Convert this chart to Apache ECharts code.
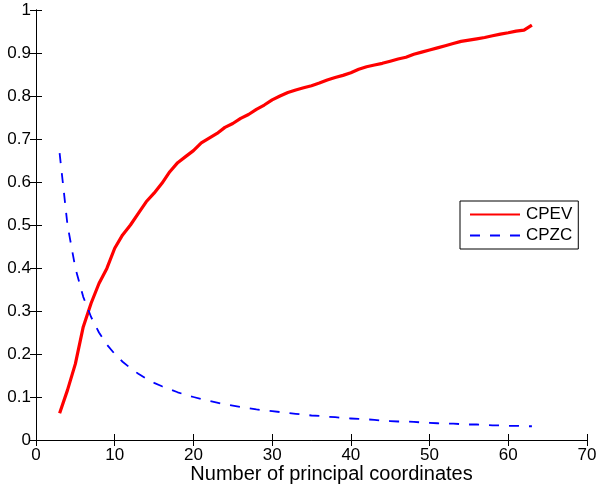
<!DOCTYPE html>
<html>
<head>
<meta charset="utf-8">
<script src="https://cdn.jsdelivr.net/npm/echarts@6/dist/echarts.min.js"></script>
<style>
  html, body { margin: 0; padding: 0; background: #fff; }
  #chart { width: 596px; height: 487px; }
</style>
</head>
<body>
<div id="chart"></div>
<script>
// Number of principal coordinates retained
const coords = [3, 4, 5, 6, 7, 8, 9, 10, 11, 12, 13, 14, 15, 16, 17, 18, 19, 20,
  21, 22, 23, 24, 25, 26, 27, 28, 29, 30, 31, 32, 33, 34, 35, 36, 37, 38, 39, 40,
  41, 42, 43, 44, 45, 46, 47, 48, 49, 50, 51, 52, 53, 54, 55, 56, 57, 58, 59, 60,
  61, 62, 63];

// Cumulative proportion of explained variation
const cpev = [0.062, 0.116, 0.177, 0.263, 0.318, 0.364, 0.399, 0.446, 0.477, 0.500,
  0.527, 0.554, 0.574, 0.597, 0.624, 0.645, 0.659, 0.673, 0.691, 0.702,
  0.713, 0.727, 0.736, 0.748, 0.757, 0.769, 0.779, 0.791, 0.800, 0.808,
  0.814, 0.819, 0.824, 0.830, 0.837, 0.843, 0.848, 0.854, 0.862, 0.868,
  0.872, 0.876, 0.881, 0.886, 0.890, 0.897, 0.902, 0.907, 0.912, 0.917,
  0.922, 0.927, 0.930, 0.933, 0.936, 0.940, 0.944, 0.947, 0.951, 0.953,
  0.965];

// Cumulative proportion of zero-correlation
const cpzc = [0.667, 0.500, 0.400, 0.333, 0.286, 0.250, 0.222, 0.200, 0.182, 0.167,
  0.154, 0.143, 0.133, 0.125, 0.118, 0.111, 0.105, 0.100, 0.095, 0.091,
  0.087, 0.083, 0.080, 0.077, 0.074, 0.071, 0.069, 0.067, 0.065, 0.063,
  0.061, 0.059, 0.057, 0.056, 0.054, 0.053, 0.051, 0.050, 0.049, 0.048,
  0.047, 0.045, 0.044, 0.043, 0.043, 0.042, 0.041, 0.040, 0.039, 0.038,
  0.038, 0.037, 0.036, 0.036, 0.035, 0.034, 0.034, 0.033, 0.033, 0.032,
  0.032];

const seriesNames = ['CPEV', 'CPZC'];
const xTitle = 'Number of principal coordinates';

const FONT = '"Liberation Sans", Arial, Helvetica, sans-serif';
const pairs = (ys) => coords.map((x, i) => [x, ys[i]]);

const boxAxis = (extra) => Object.assign({
  type: 'value',
  axisLine: { show: true, lineStyle: { color: '#000', width: 1 } },
  axisTick: { show: true, inside: true, length: 6, lineStyle: { color: '#000', width: 1 } },
  splitLine: { show: false },
}, extra);

const chart = echarts.init(document.getElementById('chart'), null, { renderer: 'canvas' });
chart.setOption({
  animation: false,
  backgroundColor: '#fff',
  textStyle: { fontFamily: FONT },
  grid: { left: 36, right: 9, top: 10, bottom: 47, containLabel: false, outerBoundsMode: 'none' },
  legend: {
    data: seriesNames,
    orient: 'vertical',
    left: 460,
    top: 201,
    width: 118,
    padding: [5, 6, 5, 9],
    itemGap: 4,
    itemWidth: 50,
    itemHeight: 14,
    borderColor: '#000',
    borderWidth: 1,
    backgroundColor: '#fff',
    itemStyle: { opacity: 0 },
    textStyle: { fontFamily: FONT, fontSize: 17, color: '#000', padding: [0, 0, 0, 1] },
  },
  xAxis: [
    boxAxis({
      min: 0, max: 70, interval: 10,
      position: 'bottom',
      axisLabel: { color: '#000', fontSize: 17, fontFamily: FONT, margin: 7 },
      name: xTitle,
      nameLocation: 'middle',
      nameGap: 24,
      nameMoveOverlap: false,
      nameTextStyle: { color: '#000', fontSize: 20, fontFamily: FONT, padding: [0, 0, 0, 40] },
    }),
    boxAxis({
      min: 0, max: 70, interval: 10,
      position: 'top',
      axisLabel: { show: false },
    }),
  ],
  yAxis: [
    boxAxis({
      min: 0, max: 1, interval: 0.1,
      position: 'left',
      axisLabel: { color: '#000', fontSize: 17, fontFamily: FONT, margin: 5 },
    }),
    boxAxis({
      min: 0, max: 1, interval: 0.1,
      position: 'right',
      axisLabel: { show: false },
    }),
  ],
  series: [
    {
      name: seriesNames[0],
      type: 'line',
      data: pairs(cpev),
      symbol: 'none',
      smooth: false,
      color: '#ff0000',
      lineStyle: { color: '#ff0000', width: 3.2 },
    },
    {
      name: seriesNames[1],
      type: 'line',
      data: pairs(cpzc),
      symbol: 'none',
      smooth: false,
      color: '#0000ff',
      lineStyle: { color: '#0000ff', width: 1.8, type: [10, 10] },
    },
  ],
});
</script>
</body>
</html>
